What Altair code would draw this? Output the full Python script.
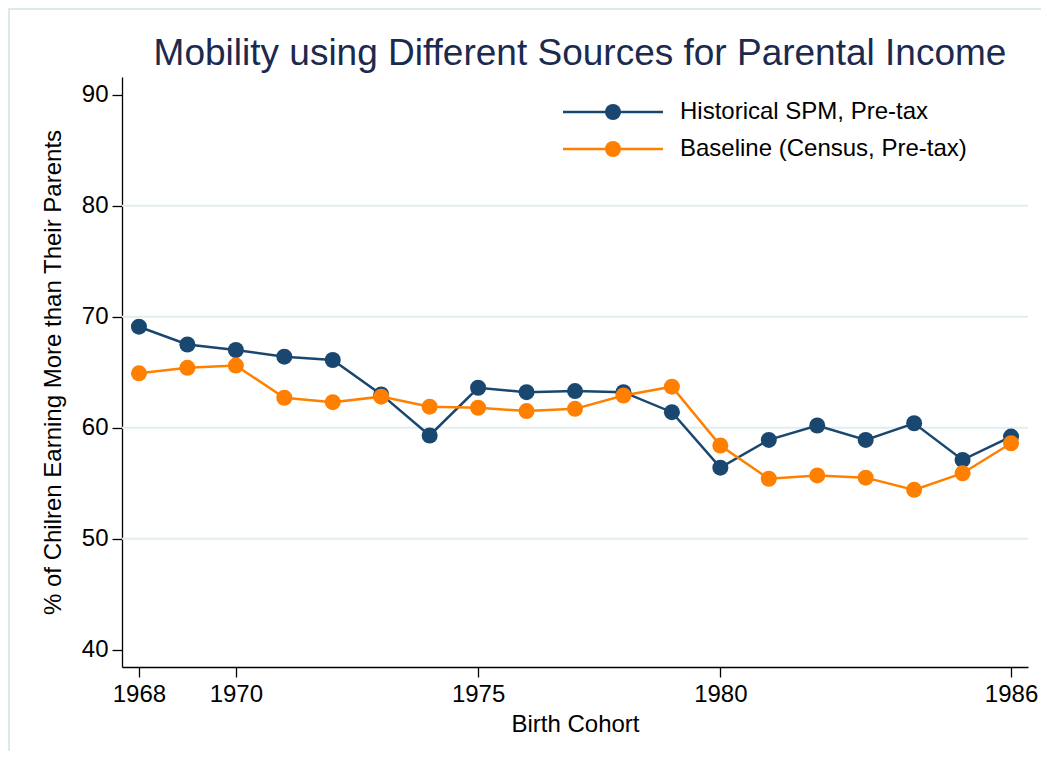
import altair as alt
import pandas as pd

# ---- data ----
years = list(range(1968, 1987))
spm = [69.1, 67.5, 67.0, 66.4, 66.1, 63.0, 59.3, 63.6, 63.2, 63.3,
       63.2, 61.4, 56.4, 58.9, 60.2, 58.9, 60.4, 57.1, 59.2]
baseline = [64.9, 65.4, 65.6, 62.7, 62.3, 62.8, 61.9, 61.8, 61.5, 61.7,
            62.9, 63.7, 58.4, 55.4, 55.7, 55.5, 54.4, 55.9, 58.6]
series_names = ["Historical SPM, Pre-tax", "Baseline (Census, Pre-tax)"]
series_colors = ["#1a476f", "#ff8000"]
y_ticks = [40, 50, 60, 70, 80, 90]
x_ticks = [1968, 1970, 1975, 1980, 1986]
grid_values = [50, 60, 70, 80]
title_text = ["Mobility using Different Sources for Parental Income"]

FONT = "Liberation Sans"
PLOT_W = 906
PLOT_H = 590

df = pd.DataFrame({
    "year": years * 2,
    "value": spm + baseline,
    "series": [series_names[0]] * len(years) + [series_names[1]] * len(years),
    "order": [0] * len(years) + [1] * len(years),
})
grid_df = pd.DataFrame({"g": grid_values})
legend_df = pd.DataFrame({"series": series_names, "row": [0, 1]})
title_df = pd.DataFrame({"t": title_text})

color_scale = alt.Scale(domain=series_names, range=series_colors)
x_scale = alt.Scale(domain=[1967.65, 1986.35], nice=False, zero=False)
y_scale = alt.Scale(domain=[38.44, 91.6], nice=False, zero=False)

x_axis = alt.Axis(values=x_ticks, format="d", title="Birth Cohort",
                  labelFlush=False, tickSize=10, labelPadding=5,
                  titlePadding=6, grid=False)
y_axis = alt.Axis(values=y_ticks, format="d",
                  title="% of Chilren Earning More than Their Parents",
                  tickSize=10, labelPadding=4, titlePadding=16, grid=False)

grid = alt.Chart(grid_df).mark_rule(color="#e3edef", strokeWidth=2).encode(
    y=alt.Y("g:Q", scale=y_scale, axis=y_axis)
)

lines = alt.Chart(df).mark_line(strokeWidth=2.5).encode(
    x=alt.X("year:Q", scale=x_scale, axis=x_axis),
    y=alt.Y("value:Q", scale=y_scale, axis=y_axis),
    color=alt.Color("series:N", scale=color_scale, legend=None),
    detail="series:N",
    order=alt.Order("year:Q"),
)

points = alt.Chart(df).mark_point(filled=True, size=256, opacity=1).encode(
    x=alt.X("year:Q", scale=x_scale, axis=x_axis),
    y=alt.Y("value:Q", scale=y_scale, axis=y_axis),
    color=alt.Color("series:N", scale=color_scale, legend=None),
    order=alt.Order("order:Q"),
)

main = alt.layer(grid, lines, points)

leg_y = alt.Y("row:Q", scale=alt.Scale(domain=[0, 1], range=[35, 72]), axis=None)
leg_rule = alt.Chart(legend_df).mark_rule(strokeWidth=2.5).encode(
    x=alt.value(441), x2=alt.value(541), y=leg_y,
    color=alt.Color("series:N", scale=color_scale, legend=None),
)
leg_pt = alt.Chart(legend_df).mark_point(filled=True, size=256, opacity=1).encode(
    x=alt.value(491), y=leg_y,
    color=alt.Color("series:N", scale=color_scale, legend=None),
)
leg_text = alt.Chart(legend_df).mark_text(
    align="left", baseline="middle", fontSize=24, font=FONT, color="#000000"
).encode(
    x=alt.value(558), y=leg_y, text="series:N",
)
legend = alt.layer(leg_rule, leg_pt, leg_text)

frame = alt.Chart(legend_df).mark_rect(
    fill="transparent", stroke="#dde9ec", strokeWidth=2
).encode(
    x=alt.value(-113), x2=alt.value(1100), y=alt.value(-68), y2=alt.value(900),
)

title = alt.Chart(title_df).mark_text(
    align="center", baseline="alphabetic", fontSize=37, font=FONT,
    color="#1b2a4e",
).encode(
    x=alt.value(458), y=alt.value(-12), text="t:N",
)

chart = alt.layer(frame, main, legend, title).resolve_scale(y="independent").properties(
    width=PLOT_W,
    height=PLOT_H,
    padding={"left": 114, "top": 69, "right": 13, "bottom": 84},
    autosize=alt.AutoSizeParams(type="none"),
).configure_view(stroke=None).configure_axis(
    labelFont=FONT, titleFont=FONT, labelFontSize=24, titleFontSize=24,
    labelColor="#000000", titleColor="#000000", titleFontWeight="normal",
    domainColor="#000000", tickColor="#000000", domainWidth=1.3, tickWidth=1.3,
)

chart.save("out.html", embed_options={"renderer": "svg", "actions": False})
